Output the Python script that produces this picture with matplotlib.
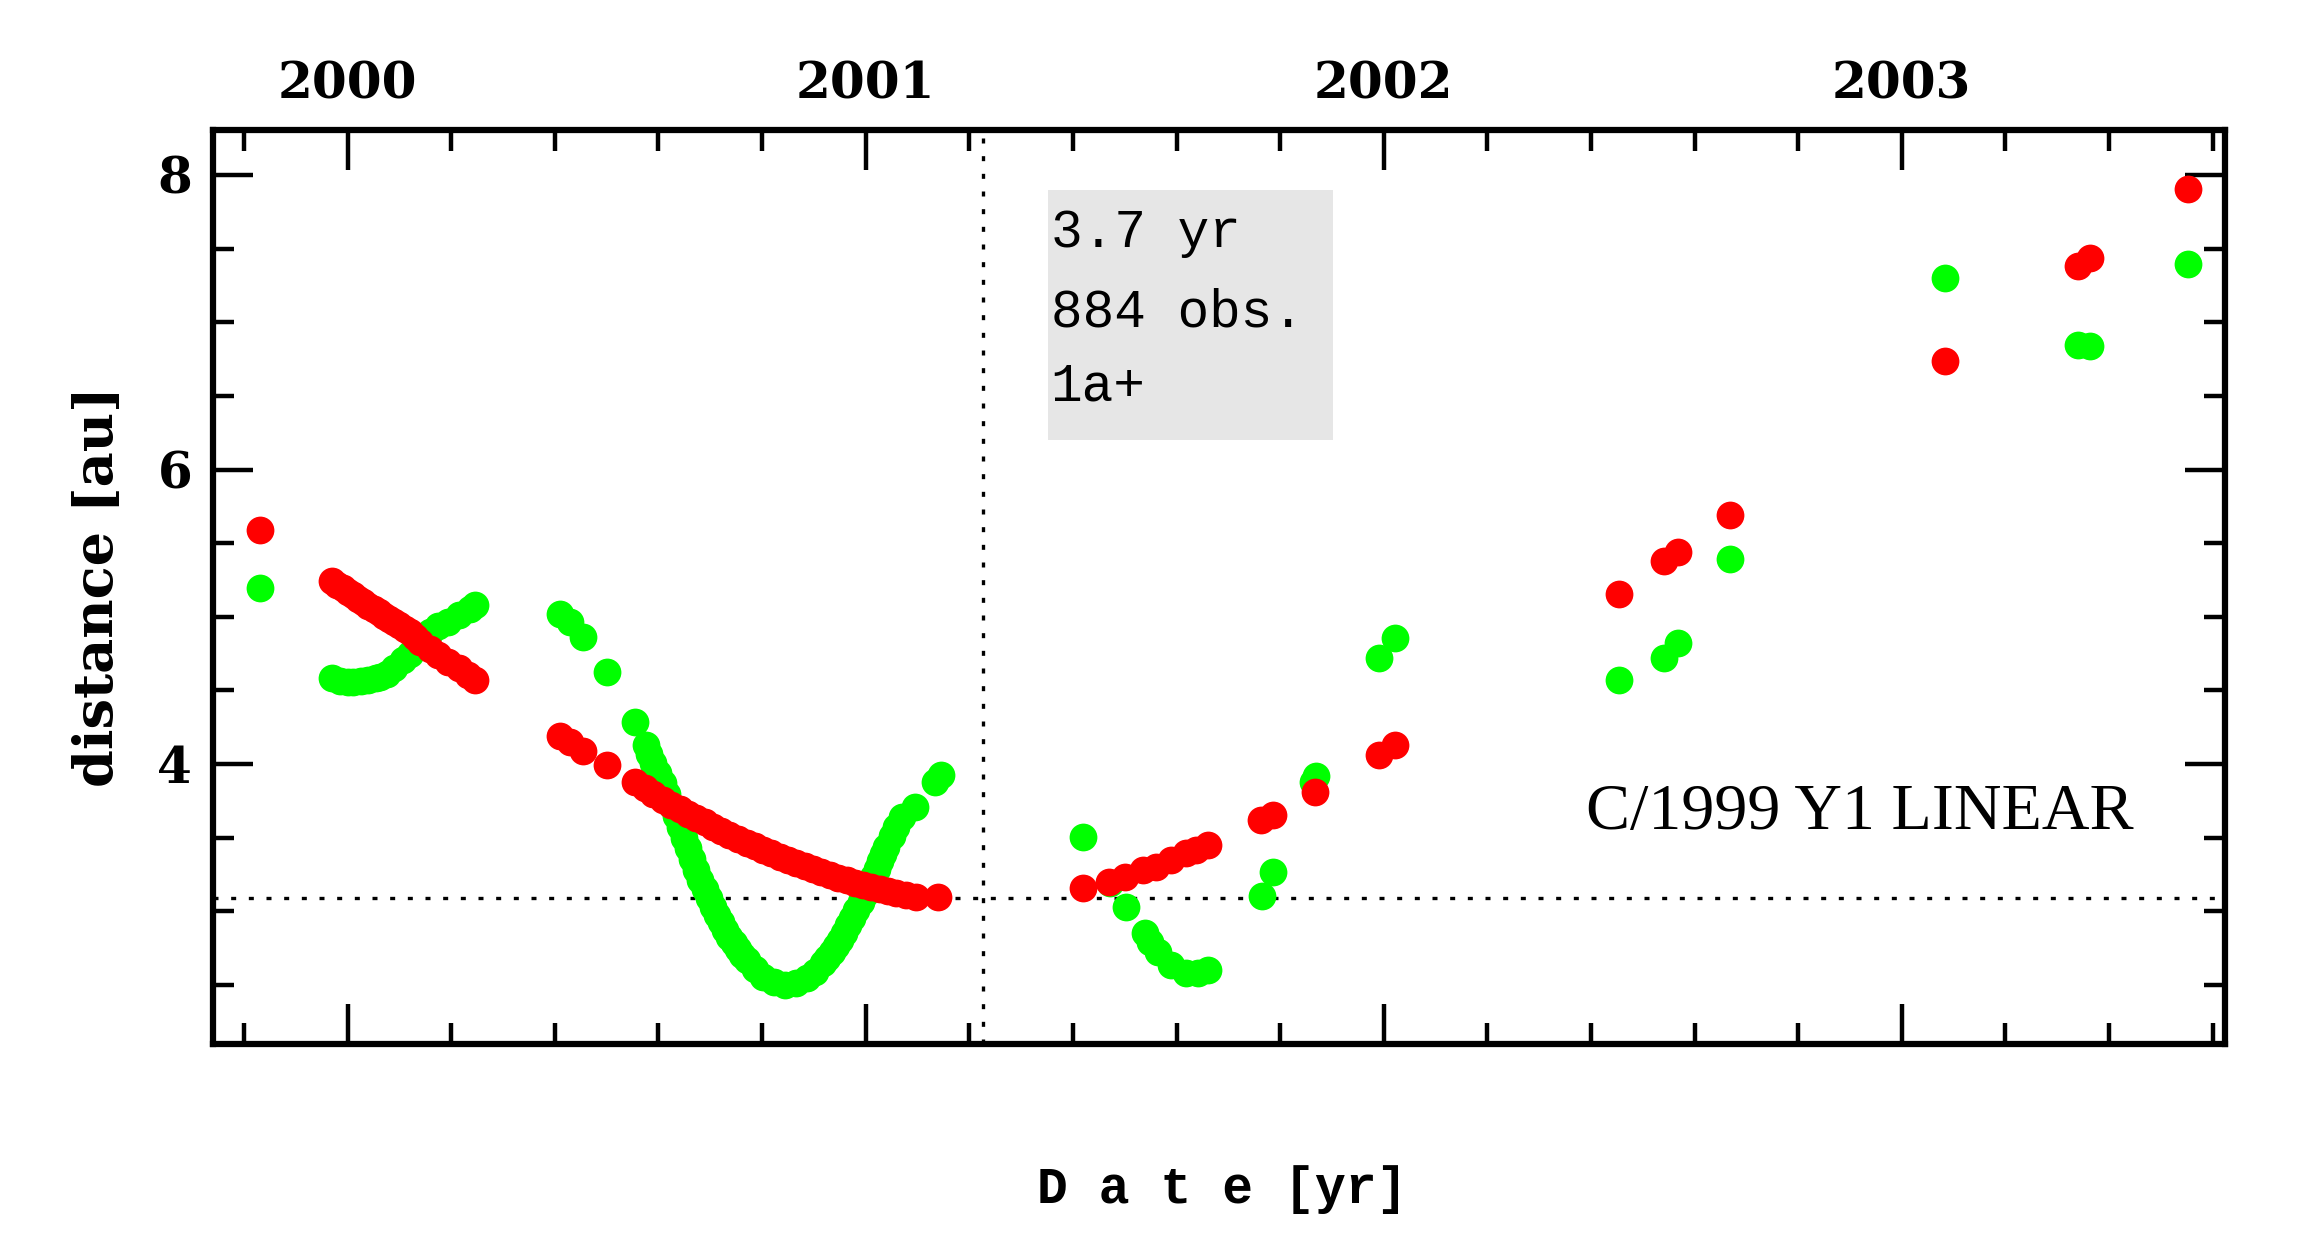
import matplotlib
matplotlib.use("Agg")
import matplotlib.pyplot as plt
from matplotlib.ticker import MultipleLocator, FixedLocator

# ---------------- data ----------------
# heliocentric distance (red)
helio_dates = [1999.830,
    1999.970, 1999.980, 1999.990, 2000.000, 2000.010, 2000.020, 2000.030, 2000.040,
    2000.050, 2000.060, 2000.070, 2000.080, 2000.090, 2000.100, 2000.110, 2000.120,
    2000.130, 2000.140, 2000.158, 2000.175, 2000.194, 2000.215, 2000.232, 2000.245,
    2000.409, 2000.429, 2000.454, 2000.501, 2000.554,
    2000.573, 2000.590, 2000.609, 2000.625, 2000.641, 2000.657, 2000.673, 2000.689,
    2000.705, 2000.721, 2000.737, 2000.753, 2000.770, 2000.786, 2000.802, 2000.818,
    2000.834, 2000.850, 2000.866, 2000.882, 2000.898, 2000.914, 2000.931, 2000.947,
    2000.963, 2000.979, 2000.995, 2001.011, 2001.027, 2001.043, 2001.059, 2001.078,
    2001.097, 2001.140,
    2001.420, 2001.470, 2001.500, 2001.535, 2001.561, 2001.590, 2001.619, 2001.638, 2001.661,
    2001.764, 2001.787, 2001.867, 2001.990, 2002.021,
    2002.454, 2002.542, 2002.569, 2002.668,
    2003.083, 2003.340, 2003.363, 2003.553]
helio_dist = [5.591,
    5.241, 5.218, 5.195, 5.171, 5.147, 5.123, 5.100, 5.076,
    5.053, 5.031, 5.009, 4.987, 4.964, 4.942, 4.920, 4.895,
    4.860, 4.830, 4.784, 4.740, 4.694, 4.650, 4.603, 4.574,
    4.190, 4.151, 4.090, 3.993, 3.880,
    3.835, 3.795, 3.756, 3.724, 3.692, 3.662, 3.632, 3.604,
    3.575, 3.547, 3.519, 3.493, 3.467, 3.442, 3.417, 3.394,
    3.371, 3.349, 3.327, 3.306, 3.286, 3.266, 3.247, 3.229,
    3.212, 3.196, 3.180, 3.165, 3.150, 3.136, 3.123, 3.111,
    3.100, 3.096,
    3.157, 3.202, 3.236, 3.281, 3.304, 3.349, 3.394, 3.420, 3.449,
    3.620, 3.654, 3.808, 4.061, 4.129,
    5.153, 5.378, 5.439, 5.688,
    6.734, 7.383, 7.433, 7.907]

# geocentric distance (green)
geo_dates = [1999.830,
    1999.970, 1999.985, 2000.000, 2000.010, 2000.025, 2000.040, 2000.055, 2000.062,
    2000.075, 2000.090, 2000.107, 2000.120, 2000.133, 2000.145, 2000.158, 2000.175,
    2000.194, 2000.215, 2000.236, 2000.245,
    2000.409, 2000.429, 2000.454, 2000.501, 2000.554,
    2000.575, 2000.582, 2000.590, 2000.600, 2000.609, 2000.617, 2000.625, 2000.633,
    2000.641, 2000.649, 2000.657, 2000.665, 2000.673, 2000.681, 2000.689, 2000.697,
    2000.705, 2000.713, 2000.721, 2000.729, 2000.737, 2000.745, 2000.753, 2000.762,
    2000.770, 2000.786, 2000.802, 2000.823,
    2000.844, 2000.865, 2000.886, 2000.902, 2000.918, 2000.926, 2000.934, 2000.942,
    2000.950, 2000.958, 2000.966, 2000.974, 2000.982, 2000.990, 2000.998, 2001.006,
    2001.014, 2001.021, 2001.027, 2001.034, 2001.040, 2001.050, 2001.059, 2001.070,
    2001.095, 2001.133, 2001.146,
    2001.420, 2001.471, 2001.502, 2001.539, 2001.548, 2001.564, 2001.590, 2001.619,
    2001.642, 2001.661,
    2001.765, 2001.787, 2001.864, 2001.869, 2001.990, 2002.021,
    2002.454, 2002.542, 2002.569, 2002.668,
    2003.083, 2003.340, 2003.363, 2003.553]
geo_dist = [5.198,
    4.585, 4.566, 4.558, 4.557, 4.562, 4.572, 4.585, 4.592,
    4.615, 4.650, 4.705, 4.750, 4.795, 4.845, 4.897, 4.935,
    4.965, 5.010, 5.056, 5.078,
    5.022, 4.965, 4.863, 4.626, 4.283,
    4.129, 4.070, 4.010, 3.940, 3.869, 3.795, 3.720, 3.648,
    3.575, 3.500, 3.428, 3.355, 3.281, 3.216, 3.155, 3.092,
    3.033, 2.978, 2.928, 2.877, 2.829, 2.786, 2.745, 2.707,
    2.671, 2.610, 2.558, 2.518,
    2.502, 2.515, 2.547, 2.592, 2.649, 2.684, 2.722, 2.763,
    2.807, 2.855, 2.905, 2.957, 3.010, 3.064, 3.120, 3.178,
    3.236, 3.290, 3.340, 3.390, 3.439, 3.510, 3.575, 3.640,
    3.711, 3.880, 3.925,
    3.507, 3.191, 3.028, 2.852, 2.795, 2.727, 2.637, 2.581,
    2.581, 2.603,
    3.107, 3.270, 3.880, 3.919, 4.721, 4.859,
    4.574, 4.721, 4.825, 5.394,
    7.297, 6.847, 6.839, 7.394]

year_ticks = [2000, 2001, 2002, 2003]
dist_ticks = [4, 6, 8]
perihelion_date = 2001.226
perihelion_q = 3.09
info_lines = ["3.7 yr", "884 obs.", "1a+"]
object_name = "C/1999 Y1 LINEAR"

# ---------------- figure ----------------
W, H = 2300, 1242
fig = plt.figure(figsize=(W / 100, H / 100), dpi=100)
ax = fig.add_axes([213 / W, 1 - 1044 / H, (2225 - 213) / W, (1044 - 130) / H])

ax.set_xlim(1999.74, 2003.624)
ax.set_ylim(2.10, 8.305)

ms = 20
ax.plot(geo_dates, geo_dist, linestyle="none", marker="o", ms=ms,
        color="#00ff00", markeredgewidth=0, zorder=3)
ax.plot(helio_dates, helio_dist, linestyle="none", marker="o", ms=ms,
        color="#ff0000", markeredgewidth=0, zorder=4)

dots = (0, (1.5, 3.8))
ax.axvline(perihelion_date, color="black", lw=2.4, linestyle=dots, zorder=2)
ax.axhline(perihelion_q, color="black", lw=2.4, linestyle=dots, zorder=2)

# info box
ax.fill_between([2001.351, 2001.902], 6.203, 7.898, color="#e6e6e6", lw=0, zorder=1)
for txt, yb in zip(info_lines, [7.512, 6.969, 6.468]):
    ax.text(2001.357, yb, txt, fontsize=38, family="Liberation Mono",
            ha="left", va="baseline", zorder=5)

ax.text(2003.448, 3.559, object_name, fontsize=47.5, family="Liberation Serif",
        ha="right", va="baseline", zorder=5)

# ticks
ax.xaxis.set_major_locator(FixedLocator(year_ticks))
ax.xaxis.set_minor_locator(MultipleLocator(0.2))
ax.yaxis.set_major_locator(FixedLocator(dist_ticks))
ax.yaxis.set_minor_locator(MultipleLocator(0.5))
ax.tick_params(which="both", direction="in", top=True, bottom=True, left=True, right=True,
               labeltop=True, labelbottom=False, labelleft=True, labelright=False,
               width=3.2, color="black")
ax.tick_params(which="major", length=29)
ax.tick_params(which="minor", length=15)
ax.tick_params(axis="x", which="major", pad=15)
ax.tick_params(axis="y", which="major", pad=15)
ax.set_xticklabels([str(y) for y in year_ticks])
ax.set_yticklabels([str(d) for d in dist_ticks])
for lab in ax.get_xticklabels() + ax.get_yticklabels():
    lab.set_fontfamily("DejaVu Serif")
    lab.set_fontweight("bold")
    lab.set_fontsize(36)

for sp in ax.spines.values():
    sp.set_linewidth(4.5)

ax.set_ylabel("distance [au]", fontsize=39, family="DejaVu Serif", fontweight="bold",
              labelpad=24)
fig.text(1222 / W, 1 - 1190 / H, "D a t e [yr]", fontsize=37, family="Liberation Mono",
         fontweight="bold", ha="center", va="center")

fig.savefig("out.png", dpi=100)
